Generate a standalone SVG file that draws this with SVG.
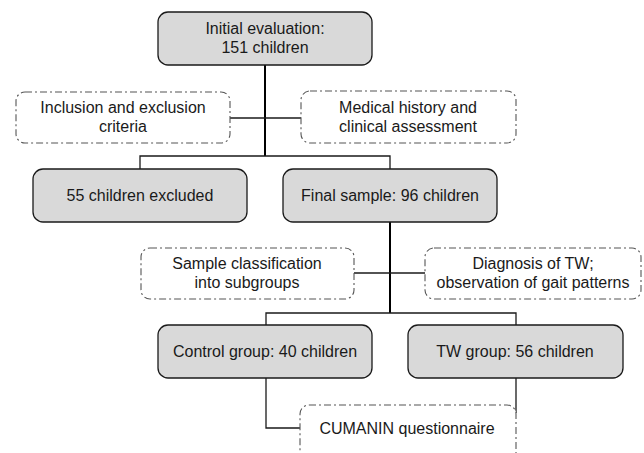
<svg xmlns="http://www.w3.org/2000/svg" width="644" height="453" viewBox="0 0 644 453">
<style>
.solid{fill:#d9d9d9;stroke:#1a1a1a;stroke-width:1.3}
.dash{fill:#fff;stroke:#555;stroke-width:1.1;stroke-dasharray:7 3 2 3}
text{font-family:"Liberation Sans",Arial,sans-serif;font-size:16px;fill:#1a1a1a;text-anchor:middle}
.spine{fill:none;stroke:#000;stroke-width:2}
.con{fill:none;stroke:#1a1a1a;stroke-width:1.3}
</style>
<rect width="644" height="453" fill="#fff"/>
<g id="connectors">
<path class="spine" d="M265 65V156"/>
<path class="con" d="M230 118H301"/>
<path class="con" d="M140 169V156H390V169"/>
<path class="spine" d="M390 222V313"/>
<path class="con" d="M354 273H425"/>
<path class="con" d="M266 325V313H516V325"/>
<path class="con" d="M266 378V428H300"/>
<path class="con" d="M516 378V413"/>
</g>
<g id="n1"><rect class="solid" x="158" y="12" width="214" height="53" rx="10"/><text x="265" y="34">Initial evaluation:</text><text x="265" y="53">151 children</text></g>
<g id="n2"><rect class="dash" x="16" y="92" width="214" height="51" rx="9"/><text x="123" y="113">Inclusion and exclusion</text><text x="123" y="132">criteria</text></g>
<g id="n3"><rect class="dash" x="301" y="91" width="215" height="52" rx="9"/><text x="408" y="113">Medical history and</text><text x="408" y="132">clinical assessment</text></g>
<g id="n4"><rect class="solid" x="33" y="169" width="214" height="53" rx="10"/><text x="140" y="201">55 children excluded</text></g>
<g id="n5"><rect class="solid" x="283" y="169" width="214" height="53" rx="10"/><text x="390" y="201">Final sample: 96 children</text></g>
<g id="n6"><rect class="dash" x="141" y="248" width="213" height="51" rx="9"/><text x="247" y="269">Sample classification</text><text x="247" y="288">into subgroups</text></g>
<g id="n7"><rect class="dash" x="425" y="248" width="216" height="51" rx="9"/><text x="533" y="269">Diagnosis of TW;</text><text x="533" y="288">observation of gait patterns</text></g>
<g id="n8"><rect class="solid" x="158" y="325" width="214" height="53" rx="10"/><text x="265" y="357">Control group: 40 children</text></g>
<g id="n9"><rect class="solid" x="408" y="325" width="215" height="53" rx="10"/><text x="515" y="357">TW group: 56 children</text></g>
<g id="n10"><rect class="dash" x="300" y="405" width="216" height="62" rx="9"/><text x="407" y="434">CUMANIN questionnaire</text></g>
</svg>
